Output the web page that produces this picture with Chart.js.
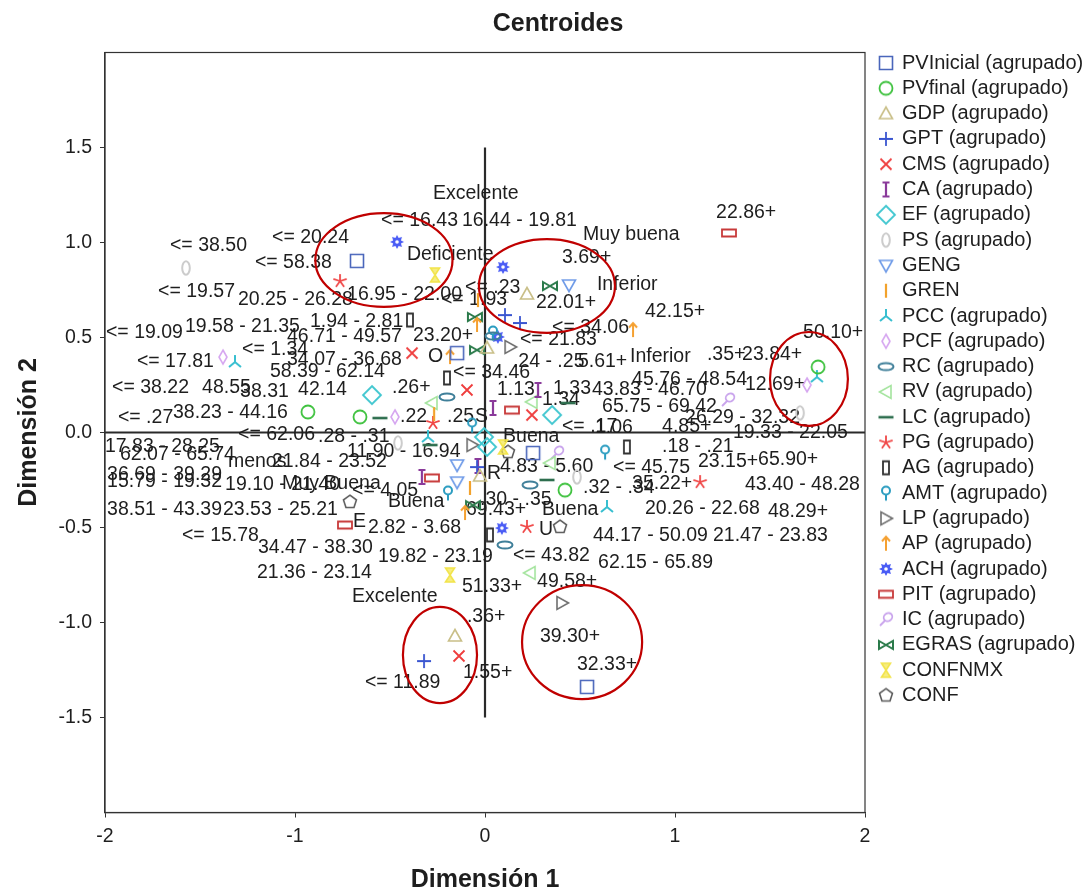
<!DOCTYPE html>
<html>
<head>
<meta charset="utf-8">
<script src="https://cdn.jsdelivr.net/npm/chart.js@4.4.1/dist/chart.umd.min.js"></script>
<style>
  html, body { margin: 0; padding: 0; background: #fff; }
  #wrap { width: 1088px; height: 893px; position: relative; }
</style>
</head>
<body>
<div id="wrap"><canvas id="c"></canvas></div>
<script>
const FONT = '"Liberation Sans", Arial, Helvetica, sans-serif';
const INK = '#1e1e1e';

// Axis ticks
const xTickValues = [-2, -1, 0, 1, 2];
const yTickValues = [-1.5, -1.0, -0.5, 0.0, 0.5, 1.0, 1.5];

// Category centroids per variable, [dimension 1, dimension 2]
const PVInicial = [[-0.674, 0.903], [-0.147, 0.418], [0.253, -0.108], [0.537, -1.339]];
const PVfinal   = [[1.753, 0.345], [-0.932, 0.108], [-0.658, 0.082], [0.421, -0.303]];
const GDP       = [[0.221, 0.729], [-0.158, -1.071], [0.011, 0.445], [-0.026, -0.229]];
const GPT       = [[0.105, 0.618], [0.184, 0.576], [-0.321, -1.203], [-0.042, -0.182]];
const CMS       = [[-0.384, 0.418], [-0.095, 0.224], [0.247, 0.092], [-0.137, -1.176]];
const CA        = [[0.279, 0.224], [0.042, 0.129], [-0.332, -0.234], [-0.037, -0.176]];
const EF        = [[-0.595, 0.197], [0.353, 0.092], [0.011, -0.076], [-0.005, -0.024]];
const PS        = [[-1.574, 0.866], [1.658, 0.103], [0.484, -0.234], [-0.458, -0.055]];
const GENG      = [[0.442, 0.776], [-0.147, -0.171], [-0.147, -0.261]];
const GREN      = [[-0.079, -0.292], [-0.037, 0.697], [-0.268, 0.097]];
const PCC       = [[-1.316, 0.371], [1.747, 0.292], [-0.300, -0.024], [0.642, -0.392]];
const PCF       = [[-1.379, 0.397], [1.695, 0.250], [-0.474, 0.082]];
const RC        = [[-0.200, 0.187], [0.237, -0.276], [0.105, -0.592], [0.042, 0.508]];
const RV        = [[-0.279, 0.155], [0.247, 0.161], [0.237, -0.739], [0.342, -0.161]];
const LC        = [[-0.553, 0.076], [0.437, 0.155], [0.326, -0.250], [-0.289, -0.066]];
const PG        = [[-0.763, 0.797], [-0.274, 0.050], [0.221, -0.497], [1.132, -0.261]];
const AG        = [[-0.395, 0.592], [-0.200, 0.287], [0.747, -0.076], [0.026, -0.539]];
const AMT       = [[0.042, 0.524], [0.632, -0.103], [-0.195, -0.318], [-0.068, 0.039]];
const LP        = [[0.132, 0.450], [-0.068, -0.066], [0.405, -0.897]];
const AP        = [[0.779, 0.539], [-0.184, 0.397], [-0.105, -0.424], [-0.042, 0.566]];
const ACH       = [[-0.463, 1.003], [0.095, 0.871], [0.068, 0.503], [0.089, -0.503]];
const PIT       = [[1.284, 1.050], [0.142, 0.118], [-0.279, -0.239], [-0.737, -0.487]];
const IC        = [[1.279, 0.171], [0.379, -0.108]];
const EGRAS     = [[0.342, 0.771], [-0.053, 0.608], [-0.042, 0.434], [-0.063, -0.382]];
const CONFNMX   = [[-0.263, 0.829], [-0.184, -0.750], [0.095, -0.076]];
const CONF      = [[-0.711, -0.366], [0.395, -0.497], [0.121, -0.103]];

// Legend names, in drawing order
const seriesNames = [
  'PVInicial (agrupado)', 'PVfinal (agrupado)', 'GDP (agrupado)', 'GPT (agrupado)',
  'CMS (agrupado)', 'CA (agrupado)', 'EF (agrupado)', 'PS (agrupado)', 'GENG', 'GREN',
  'PCC (agrupado)', 'PCF (agrupado)', 'RC (agrupado)', 'RV (agrupado)', 'LC (agrupado)',
  'PG (agrupado)', 'AG (agrupado)', 'AMT (agrupado)', 'LP (agrupado)', 'AP (agrupado)',
  'ACH (agrupado)', 'PIT (agrupado)', 'IC (agrupado)', 'EGRAS (agrupado)', 'CONFNMX', 'CONF'
];
const seriesPoints = [
  PVInicial, PVfinal, GDP, GPT, CMS, CA, EF, PS, GENG, GREN, PCC, PCF, RC, RV, LC,
  PG, AG, AMT, LP, AP, ACH, PIT, IC, EGRAS, CONFNMX, CONF
];
const seriesShapes = [
  'square', 'circle', 'triUp', 'plus', 'cross', 'ibeam', 'diamond', 'ovalV', 'triDown', 'bar',
  'tristar', 'diamondThin', 'ovalH', 'triLeft', 'dash', 'star', 'rectV', 'pin', 'triRight', 'arrowUp',
  'sun', 'rectH', 'female', 'bowtie', 'hourglass', 'pentagon'
];
const seriesColors = [
  '#4a66bb', '#3fc23f', '#c9bf88', '#3a55d0', '#ef3d3d', '#8a3a9a', '#3ec6cf', '#cccccc', '#6f9be8', '#f2a22c',
  '#38bfd0', '#d6a6f0', '#3f7f99', '#a4e49e', '#2d6e4e', '#f04848', '#333333', '#2a9cc0', '#6e6e6e', '#f5a030',
  '#4a5cf5', '#c83a3a', '#c8a2ec', '#2a7a4a', '#f2e44a', '#5a5a5a'
];

// Category labels: [text, dimension 1 (left edge), dimension 2]
const categoryLabels = [
  ['Excelente', -0.274, 1.255], ['<= 16.43', -0.547, 1.113], ['16.44 - 19.81', -0.121, 1.113],
  ['22.86+', 1.216, 1.155], ['Muy buena', 0.516, 1.039], ['<= 38.50', -1.658, 0.982],
  ['<= 20.24', -1.121, 1.024], ['<= 58.38', -1.211, 0.892], ['Deficiente', -0.411, 0.934],
  ['3.69+', 0.405, 0.918], ['Inferior', 0.589, 0.776], ['<= 19.57', -1.721, 0.739],
  ['20.25 - 26.28', -1.300, 0.697], ['16.95 - 22.00', -0.726, 0.724], ['<= 1.93', -0.232, 0.697],
  ['<= .23', -0.105, 0.761], ['22.01+', 0.268, 0.682], ['42.15+', 0.842, 0.634],
  ['<= 19.09', -1.995, 0.524], ['19.58 - 21.35', -1.579, 0.555], ['1.94 - 2.81', -0.921, 0.582],
  ['46.71 - 49.57', -1.042, 0.503], ['23.20+', -0.379, 0.508], ['<= 34.06', 0.353, 0.550],
  ['<= 21.83', 0.184, 0.487], ['50.10+', 1.674, 0.524], ['<= 1.34', -1.279, 0.434],
  ['34.07 - 36.68', -1.042, 0.382], ['<= 17.81', -1.832, 0.371], ['58.39 - 62.14', -1.132, 0.318],
  ['<= 38.22', -1.963, 0.234], ['48.55', -1.489, 0.234], ['38.31', -1.289, 0.213],
  ['42.14', -0.984, 0.224], ['.26+', -0.489, 0.234], ['<= 34.46', -0.168, 0.313],
  ['.24 - .25', 0.147, 0.371], ['5.61+', 0.489, 0.371], ['Inferior', 0.763, 0.397],
  ['.35+', 1.168, 0.408], ['23.84+', 1.353, 0.408], ['45.76 - 48.54', 0.774, 0.276],
  ['12.69+', 1.368, 0.250], ['1.13', 0.063, 0.224], ['1.33', 0.358, 0.229],
  ['43.83 - 46.70', 0.563, 0.224], ['1.34', 0.300, 0.171], ['65.75 - 69.42', 0.616, 0.134],
  ['26.29 - 32.32', 1.053, 0.076], ['19.33 - 22.05', 1.305, -0.003], ['<= .17', 0.405, 0.029],
  ['1.06', 0.579, 0.024], ['4.85+', 0.932, 0.029], ['.18 - .21', 0.932, -0.076],
  ['<= .27', -1.932, 0.076], ['38.23 - 44.16', -1.642, 0.103], ['<= 62.06', -1.300, -0.013],
  ['.28 - .31', -0.879, -0.024], ['.22', -0.447, 0.082], ['.25', -0.200, 0.082], ['S', -0.053, 0.082],
  ['17.83 - 28.25', -2.000, -0.076], ['62.07 - 65.74', -1.921, -0.118], ['11.90 - 16.94', -0.726, -0.103],
  ['Buena', 0.095, -0.024], ['menos', -1.353, -0.155], ['21.84 - 23.52', -1.121, -0.155],
  ['36.69 - 39.29', -1.989, -0.224], ['15.79 - 19.32', -1.989, -0.261], ['19.10 - 21.40', -1.368, -0.276],
  ['Muy Buena', -1.068, -0.271], ['<= 4.05', -0.700, -0.308], ['38.51 - 43.39', -1.989, -0.408],
  ['23.53 - 25.21', -1.379, -0.408], ['Buena', -0.511, -0.366], ['E', -0.695, -0.471],
  ['2.82 - 3.68', -0.616, -0.503], ['<= 15.78', -1.595, -0.545], ['34.47 - 38.30', -1.195, -0.608],
  ['19.82 - 23.19', -0.563, -0.655], ['21.36 - 23.14', -1.200, -0.739], ['51.33+', -0.121, -0.813],
  ['Excelente', -0.700, -0.866], ['.36+', -0.095, -0.971], ['<= 11.89', -0.632, -1.318],
  ['1.55+', -0.116, -1.266], ['49.58+', 0.274, -0.787], ['39.30+', 0.289, -1.076],
  ['32.33+', 0.484, -1.224], ['4.83 - 5.60', 0.079, -0.182], ['<= 45.75', 0.674, -0.187],
  ['23.15+', 1.121, -0.155], ['65.90+', 1.437, -0.145], ['R', 0.011, -0.218],
  ['.32 - .34', 0.516, -0.292], ['35.22+', 0.774, -0.271], ['43.40 - 48.28', 1.368, -0.276],
  ['20.26 - 22.68', 0.842, -0.403], ['48.29+', 1.489, -0.418], ['.30 - .35', -0.026, -0.355],
  ['69.43+', -0.100, -0.408], ['Buena', 0.300, -0.408], ['U', 0.284, -0.513],
  ['44.17 - 50.09', 0.568, -0.545], ['21.47 - 23.83', 1.200, -0.545], ['<= 43.82', 0.147, -0.650],
  ['62.15 - 65.89', 0.595, -0.687], ['O', -0.300, 0.397]
];

// Highlight ellipses: [centre d1, centre d2, radius d1, radius d2]
const highlightEllipses = [
  [-0.532, 0.908, 0.361, 0.247],
  [0.326, 0.771, 0.358, 0.247],
  [1.705, 0.282, 0.205, 0.247],
  [-0.237, -1.171, 0.195, 0.253],
  [0.511, -1.103, 0.316, 0.300]
];

// Marker glyphs drawn into small canvases and used as point styles
function makeMarker(shape, color) {
  const s = 22, c = s / 2;
  const cv = document.createElement('canvas');
  cv.width = s; cv.height = s;
  const g = cv.getContext('2d');
  g.strokeStyle = color; g.fillStyle = color; g.lineWidth = 1.6;
  g.beginPath();
  const poly = (pts, close = true) => {
    g.moveTo(c + pts[0][0], c + pts[0][1]);
    for (let i = 1; i < pts.length; i++) g.lineTo(c + pts[i][0], c + pts[i][1]);
    if (close) g.closePath();
  };
  switch (shape) {
    case 'square': g.rect(c - 6.5, c - 6.5, 13, 13); g.stroke(); break;
    case 'circle': g.arc(c, c, 6.5, 0, Math.PI * 2); g.lineWidth = 1.8; g.stroke(); break;
    case 'triUp': poly([[0, -6.5], [6.5, 5], [-6.5, 5]]); g.stroke(); break;
    case 'triDown': poly([[-6.5, -5], [6.5, -5], [0, 6.5]]); g.stroke(); break;
    case 'triLeft': poly([[-6.5, 0], [5, -6.5], [5, 6.5]]); g.stroke(); break;
    case 'triRight': poly([[6.5, 0], [-5, -6.5], [-5, 6.5]]); g.stroke(); break;
    case 'plus':
      g.moveTo(c - 7, c); g.lineTo(c + 7, c); g.moveTo(c, c - 7); g.lineTo(c, c + 7);
      g.lineWidth = 1.8; g.stroke(); break;
    case 'cross':
      g.moveTo(c - 5.5, c - 5.5); g.lineTo(c + 5.5, c + 5.5);
      g.moveTo(c + 5.5, c - 5.5); g.lineTo(c - 5.5, c + 5.5);
      g.lineWidth = 1.8; g.stroke(); break;
    case 'ibeam':
      g.moveTo(c, c - 7); g.lineTo(c, c + 7);
      g.moveTo(c - 3.5, c - 7); g.lineTo(c + 3.5, c - 7);
      g.moveTo(c - 3.5, c + 7); g.lineTo(c + 3.5, c + 7);
      g.lineWidth = 2.2; g.stroke(); break;
    case 'diamond': poly([[0, -9], [9, 0], [0, 9], [-9, 0]]); g.lineWidth = 1.8; g.stroke(); break;
    case 'diamondThin': poly([[0, -7], [4, 0], [0, 7], [-4, 0]]); g.stroke(); break;
    case 'ovalV': g.ellipse(c, c, 3.8, 6.8, 0, 0, Math.PI * 2); g.lineWidth = 2; g.stroke(); break;
    case 'ovalH': g.ellipse(c, c, 7.5, 3.6, 0, 0, Math.PI * 2); g.lineWidth = 2; g.stroke(); break;
    case 'bar': g.moveTo(c, c - 7); g.lineTo(c, c + 7); g.lineWidth = 2.2; g.stroke(); break;
    case 'tristar':
      g.moveTo(c, c - 7); g.lineTo(c, c);
      g.lineTo(c - 6, c + 5); g.moveTo(c, c); g.lineTo(c + 6, c + 5);
      g.lineWidth = 2; g.stroke(); break;
    case 'dash': g.moveTo(c - 7.5, c); g.lineTo(c + 7.5, c); g.lineWidth = 2.6; g.stroke(); break;
    case 'star':
      for (let k = 0; k < 5; k++) {
        const a = -Math.PI / 2 + k * 2 * Math.PI / 5;
        g.moveTo(c, c); g.lineTo(c + 7 * Math.cos(a), c + 7 * Math.sin(a));
      }
      g.lineWidth = 1.8; g.stroke(); break;
    case 'rectV': g.rect(c - 3, c - 6.5, 6, 13); g.lineWidth = 1.8; g.stroke(); break;
    case 'rectH': g.rect(c - 7, c - 3.5, 14, 7); g.lineWidth = 1.8; g.stroke(); break;
    case 'pin':
      g.arc(c, c - 2.5, 4, 0, Math.PI * 2); g.moveTo(c, c + 1.5); g.lineTo(c, c + 7.5);
      g.lineWidth = 2; g.stroke(); break;
    case 'arrowUp':
      g.moveTo(c, c + 7); g.lineTo(c, c - 7);
      g.moveTo(c - 4, c - 2.5); g.lineTo(c, c - 7); g.lineTo(c + 4, c - 2.5);
      g.lineWidth = 2; g.stroke(); break;
    case 'sun': {
      const n = 8;
      for (let k = 0; k < n * 2; k++) {
        const a = k * Math.PI / n, r = k % 2 ? 4.2 : 7;
        const px = c + r * Math.cos(a), py = c + r * Math.sin(a);
        k ? g.lineTo(px, py) : g.moveTo(px, py);
      }
      g.closePath(); g.fill();
      g.beginPath(); g.fillStyle = '#fff'; g.arc(c, c, 1.8, 0, Math.PI * 2); g.fill();
      break;
    }
    case 'female':
      g.ellipse(c + 2, c - 2.5, 4.5, 3.8, -0.6, 0, Math.PI * 2);
      g.moveTo(c - 1, c + 1); g.lineTo(c - 6, c + 6);
      g.lineWidth = 1.8; g.stroke(); break;
    case 'bowtie':
      poly([[-7, -4], [7, 4], [7, -4], [-7, 4]]); g.lineWidth = 2; g.stroke(); break;
    case 'hourglass':
      poly([[-4.5, -7], [4.5, -7], [-4.5, 7], [4.5, 7]]);
      g.globalAlpha = 0.7; g.fill(); g.globalAlpha = 1; g.lineWidth = 1.6; g.stroke(); break;
    case 'pentagon': {
      const pts = [];
      for (let k = 0; k < 5; k++) {
        const a = -Math.PI / 2 + k * 2 * Math.PI / 5;
        pts.push([6.8 * Math.cos(a), 6.8 * Math.sin(a)]);
      }
      poly(pts); g.lineWidth = 1.6; g.stroke(); break;
    }
  }
  return cv;
}

const markers = seriesShapes.map((s, i) => makeMarker(s, seriesColors[i]));

const datasets = seriesNames.map((name, i) => ({
  label: name,
  data: seriesPoints[i].map(p => ({ x: p[0], y: p[1] })),
  pointStyle: markers[i],
  pointRadius: 8,
  pointHoverRadius: 8,
  showLine: false,
  borderColor: seriesColors[i],
  backgroundColor: seriesColors[i]
}));

// Reference axes through the origin, category labels, ellipses, frame, title and legend
const decorations = {
  id: 'decorations',
  beforeDatasetsDraw(chart) {
    const { ctx, chartArea: a, scales: { x, y } } = chart;
    ctx.save();
    ctx.strokeStyle = '#2a2a2a';
    ctx.lineWidth = 2.2;
    ctx.beginPath();
    const y0 = y.getPixelForValue(0);
    ctx.moveTo(a.left, y0); ctx.lineTo(a.right, y0);
    const x0 = x.getPixelForValue(0);
    ctx.moveTo(x0, y.getPixelForValue(1.5)); ctx.lineTo(x0, y.getPixelForValue(-1.5));
    ctx.stroke();

    ctx.font = '19.5px ' + FONT;
    ctx.fillStyle = INK;
    ctx.textAlign = 'left';
    ctx.textBaseline = 'middle';
    for (const [t, vx, vy] of categoryLabels) {
      ctx.fillText(t, x.getPixelForValue(vx), y.getPixelForValue(vy));
    }
    ctx.restore();
  },
  afterDatasetsDraw(chart) {
    const { ctx, scales: { x, y } } = chart;
    ctx.save();
    ctx.strokeStyle = '#c00000';
    ctx.lineWidth = 2.2;
    for (const [cx, cy, rx, ry] of highlightEllipses) {
      const px = x.getPixelForValue(cx), py = y.getPixelForValue(cy);
      const prx = Math.abs(x.getPixelForValue(cx + rx) - px);
      const pry = Math.abs(y.getPixelForValue(cy + ry) - py);
      ctx.beginPath();
      ctx.ellipse(px, py, prx, pry, 0, 0, Math.PI * 2);
      ctx.stroke();
    }
    ctx.restore();
  },
  afterDraw(chart) {
    const { ctx, chartArea: a } = chart;
    ctx.save();
    ctx.strokeStyle = '#333';
    ctx.lineWidth = 1.2;
    ctx.strokeRect(a.left, a.top, a.right - a.left, a.bottom - a.top);

    ctx.fillStyle = INK;
    ctx.font = 'bold 25px ' + FONT;
    ctx.textAlign = 'center';
    ctx.textBaseline = 'middle';
    ctx.fillText('Centroides', 558, 24);

    ctx.font = '20px ' + FONT;
    ctx.textAlign = 'left';
    chart.data.datasets.forEach((ds, i) => {
      const ly = 63 + i * 25.3;
      const m = ds.pointStyle;
      ctx.drawImage(m, 886 - m.width / 2, ly - m.height / 2);
      ctx.fillStyle = INK;
      ctx.fillText(ds.label, 902, ly);
    });
    ctx.restore();
  }
};

new Chart(document.getElementById('c'), {
  type: 'scatter',
  data: { datasets },
  plugins: [decorations],
  options: {
    responsive: true,
    maintainAspectRatio: false,
    animation: false,
    events: [],
    layout: { padding: { left: 0, right: 223, top: 52.5, bottom: 0 } },
    plugins: { legend: { display: false }, tooltip: { enabled: false }, title: { display: false } },
    scales: {
      x: {
        type: 'linear', min: -2, max: 2,
        afterBuildTicks(s) { s.ticks = xTickValues.map(v => ({ value: v })); },
        afterFit(s) { s.height = 80.5; },
        ticks: { color: INK, font: { family: FONT, size: 19.5 }, padding: 7, maxRotation: 0,
                 callback: v => String(v) },
        grid: { display: true, drawOnChartArea: false, drawTicks: true, tickLength: 5, color: '#333' },
        border: { display: true, color: '#333', width: 1.2 },
        title: { display: true, text: 'Dimensión 1', color: INK,
                 font: { family: FONT, size: 25, weight: 'bold', lineHeight: 1 },
                 padding: { top: 0, bottom: 0 } }
      },
      y: {
        type: 'linear', min: -2, max: 2,
        afterBuildTicks(s) { s.ticks = yTickValues.map(v => ({ value: v })); },
        afterFit(s) { s.width = 105; },
        ticks: { color: INK, font: { family: FONT, size: 19.5 }, padding: 8,
                 callback: v => v.toFixed(1) },
        grid: { display: true, drawOnChartArea: false, drawTicks: true, tickLength: 5, color: '#333' },
        border: { display: true, color: '#333', width: 1.2 },
        title: { display: true, text: 'Dimensión 2', color: INK,
                 font: { family: FONT, size: 25, weight: 'bold', lineHeight: 1 },
                 padding: { top: 17, bottom: 0 } }
      }
    }
  }
});
</script>
</body>
</html>
